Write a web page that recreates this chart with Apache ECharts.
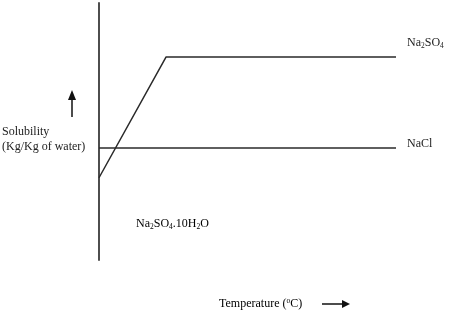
<!DOCTYPE html>
<html>
<head>
<meta charset="utf-8">
<script src="https://cdn.jsdelivr.net/npm/echarts@6/dist/echarts.min.js"></script>
<style>
  html, body { margin: 0; padding: 0; background: #fff; }
  #chart { width: 470px; height: 319px; }
</style>
</head>
<body>
<div id="chart"></div>
<script>
// temperature runs along x (arbitrary 0-100 scale), solubility along y (0-100)
const sulfateTemp = [0, 22.6, 100]
const sulfateSolubility = [32, 79, 79]
const chlorideTemp = [0, 100]
const chlorideSolubility = [43.6, 43.6]

const FONT = 'Liberation Serif'
const INK = '#222'

const rich = {
  n: { fontFamily: FONT, fontSize: 12, color: INK, lineHeight: 14 },
  s: { fontFamily: FONT, fontSize: 7.5, color: INK, verticalAlign: 'bottom' },
  p: { fontFamily: FONT, fontSize: 7.5, color: INK, verticalAlign: 'top' }
}

function pairs(xs, ys) {
  return xs.map((x, i) => [x, ys[i]])
}

let myChart = echarts.init(document.getElementById('chart'))
myChart.setOption({
  animation: false,
  grid: { left: 99, right: 74, top: 3, bottom: 59 },
  xAxis: {
    type: 'value',
    min: 0,
    max: 100,
    axisLine: { show: false },
    axisTick: { show: false },
    axisLabel: { show: false },
    splitLine: { show: false }
  },
  yAxis: {
    type: 'value',
    min: 0,
    max: 100,
    axisLine: { show: true, onZero: false, lineStyle: { color: '#3a3a3a', width: 1.8 } },
    axisTick: { show: false },
    axisLabel: { show: false },
    splitLine: { show: false }
  },
  series: [
    {
      name: 'Na2SO4',
      type: 'line',
      symbol: 'none',
      lineStyle: { color: '#2a2a2a', width: 1.5 },
      data: pairs(sulfateTemp, sulfateSolubility),
      endLabel: {
        show: true,
        distance: 0,
        offset: [11, -14],
        formatter: '{n|Na}{s|2}{n|SO}{s|4}',
        rich: rich
      }
    },
    {
      name: 'NaCl',
      type: 'line',
      symbol: 'none',
      lineStyle: { color: '#2a2a2a', width: 1.5 },
      data: pairs(chlorideTemp, chlorideSolubility),
      endLabel: {
        show: true,
        distance: 0,
        offset: [11, -4],
        formatter: '{n|NaCl}',
        rich: rich
      }
    }
  ],
  graphic: [
    {
      type: 'text',
      left: 2,
      top: 124,
      style: {
        text: 'Solubility\n(Kg/Kg of water)',
        font: '12px "' + FONT + '"',
        fill: INK,
        lineHeight: 15
      }
    },
    {
      type: 'text',
      left: 136,
      top: 218,
      style: {
        text: '{n|Na}{s|2}{n|SO}{s|4}{n|.10H}{s|2}{n|O}',
        rich: rich
      }
    },
    {
      type: 'text',
      left: 219,
      top: 297,
      style: {
        text: '{n|Temperature (}{p|o}{n|C)}',
        rich: rich
      }
    },
    // up arrow next to the solubility label
    {
      type: 'line',
      shape: { x1: 72, y1: 99, x2: 72, y2: 117 },
      style: { stroke: '#111', lineWidth: 1.5 }
    },
    {
      type: 'polygon',
      shape: { points: [[68, 100], [76, 100], [72, 90]] },
      style: { fill: '#111' }
    },
    // right arrow next to temperature label
    {
      type: 'line',
      shape: { x1: 322, y1: 304, x2: 343, y2: 304 },
      style: { stroke: '#111', lineWidth: 1.5 }
    },
    {
      type: 'polygon',
      shape: { points: [[342, 300], [342, 308], [350, 304]] },
      style: { fill: '#111' }
    }
  ]
})
</script>
</body>
</html>
